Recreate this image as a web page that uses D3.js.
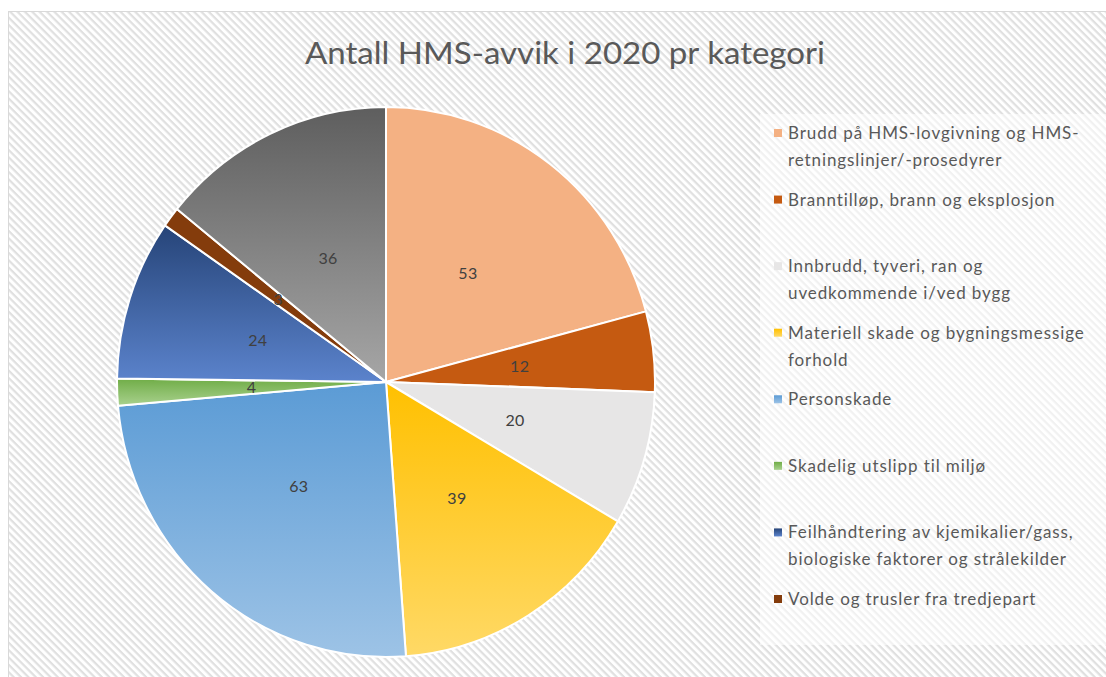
<!DOCTYPE html>
<html><head><meta charset="utf-8">
<script src="https://cdn.jsdelivr.net/npm/d3@7"></script>
<style>html,body{margin:0;padding:0;background:#fff;}svg{display:block;}</style>
</head><body>
<script>
const title = "Antall HMS-avvik i 2020 pr kategori";
const categories = [
  "Brudd på HMS-lovgivning og HMS-|retningslinjer/-prosedyrer",
  "Branntilløp, brann og eksplosjon",
  "Innbrudd, tyveri, ran og|uvedkommende i/ved bygg",
  "Materiell skade og bygningsmessige|forhold",
  "Personskade",
  "Skadelig utslipp til miljø",
  "Feilhåndtering av kjemikalier/gass,|biologiske faktorer og strålekilder",
  "Volde og trusler fra tredjepart",
  "Annet"
];
const values = [53, 12, 20, 39, 63, 4, 24, 3, 36];
const colorsTop = ["#F4B183", "#C55A11", "#E7E6E6", "#FFC000", "#5B9BD5", "#70AD47", "#264478", "#843C0C", "#5E5E5E"];
const colorsBottom = ["#F4B183", "#C55A11", "#E7E6E6", "#FFD966", "#9DC3E6", "#A9D18E", "#5B83CC", "#843C0C", "#A6A6A6"];
const legendCount = 8;

const W = 1106, H = 677;
const svg = d3.select("body").append("svg").attr("width", W).attr("height", H);
const defs = svg.append("defs");
const pat = defs.append("pattern").attr("id", "stripes").attr("patternUnits", "userSpaceOnUse")
  .attr("width", 5.2).attr("height", 5.2).attr("patternTransform", "rotate(45)");
pat.append("rect").attr("width", 5.2).attr("height", 5.2).attr("fill", "#ffffff");
pat.append("rect").attr("width", 5.2).attr("height", 2.2).attr("fill", "#e0e0e0");

values.forEach((v, i) => {
  const g = defs.append("linearGradient").attr("id", "g" + i).attr("x1", 0).attr("y1", 0).attr("x2", 0).attr("y2", 1);
  g.append("stop").attr("offset", "0%").attr("stop-color", colorsTop[i]);
  g.append("stop").attr("offset", "100%").attr("stop-color", colorsBottom[i]);
});

// chart area
svg.append("rect").attr("x", 8.5).attr("y", 11.5).attr("width", W).attr("height", H)
  .attr("fill", "url(#stripes)").attr("stroke", "#d9d9d9");

// title
svg.append("text").attr("x", 565).attr("y", 64).attr("text-anchor", "middle")
  .attr("font-family", "Lato, 'Open Sans', sans-serif").attr("font-weight", 400)
  .attr("font-size", 31).attr("fill", "#595959")
  .attr("textLength", 520).attr("lengthAdjust", "spacingAndGlyphs").text(title);

// pie (slightly taller than wide, as in the reference)
const cx = 386, cy = 382, R = 269, sy = 275 / 269;
const pie = d3.pie().sort(null).value(d => d);
const arcs = pie(values);
const arc = d3.arc().innerRadius(0).outerRadius(R);
const labelArc = d3.arc().innerRadius(R * 0.5).outerRadius(R * 0.5);
const gp = svg.append("g").attr("transform", `translate(${cx},${cy})`);
gp.append("g").attr("transform", `scale(1,${sy})`)
  .selectAll("path").data(arcs).join("path")
  .attr("d", arc).attr("fill", (d, i) => `url(#g${i})`)
  .attr("stroke", "#ffffff").attr("stroke-width", 2).attr("stroke-linejoin", "round");
gp.selectAll("text").data(arcs).join("text")
  .attr("transform", d => { const c = labelArc.centroid(d); return `translate(${c[0]},${c[1] * sy})`; })
  .attr("text-anchor", "middle").attr("dy", "0.35em")
  .attr("font-family", "Lato, 'Open Sans', sans-serif").attr("font-size", 16)
  .attr("letter-spacing", 0.4)
  .attr("fill", "#404040").text(d => d.data);

// legend
const lg = svg.append("g");
lg.append("rect").attr("x", 760).attr("y", 114).attr("width", W - 760).attr("height", 531)
  .attr("fill", "#ffffff").attr("fill-opacity", 0.55);
const ly = d3.scaleLinear().domain([0, legendCount - 1]).range([133, 599]);
for (let i = 0; i < legendCount; i++) {
  const y0 = ly(i);
  lg.append("rect").attr("x", 774).attr("y", y0 - 4).attr("width", 8).attr("height", 8)
    .attr("fill", `url(#g${i})`);
  const lines = categories[i].split("|");
  const t = lg.append("text").attr("font-family", "Lato, 'Open Sans', sans-serif")
    .attr("font-size", 17).attr("letter-spacing", 0.9).attr("fill", "#595959");
  lines.forEach((ln, k) => {
    t.append("tspan").attr("x", 788).attr("y", y0 + 6 + k * 27).text(ln);
  });
}
</script>
</body></html>
